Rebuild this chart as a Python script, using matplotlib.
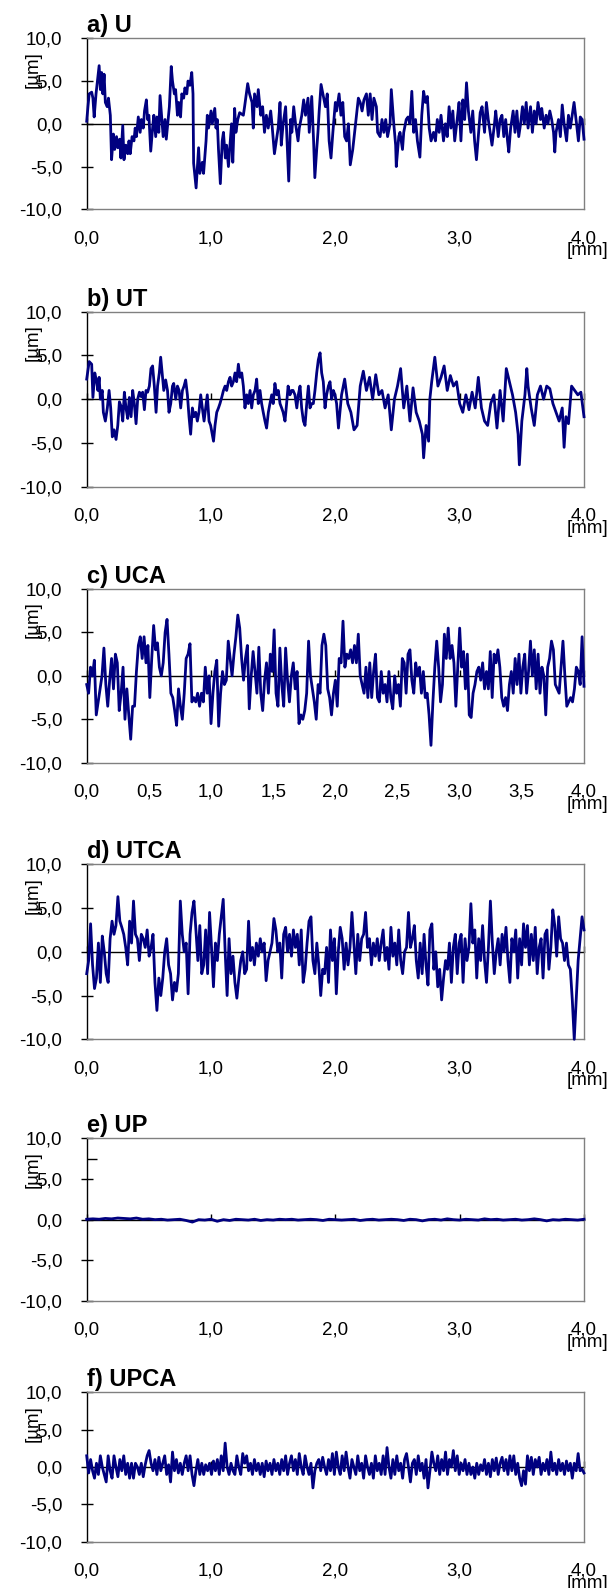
import numpy as np
import matplotlib
matplotlib.use("Agg")
import matplotlib.pyplot as plt
from matplotlib.ticker import FuncFormatter

plt.rcParams["font.family"] = ["Liberation Sans", "DejaVu Sans"]

# profile a) U as (x [mm], z [um])
u_x = [0.0, 0.01, 0.02, 0.04, 0.05, 0.06, 0.075, 0.09, 0.1, 0.11, 0.12, 0.13, 0.14, 0.15, 0.165, 0.175, 0.19,
       0.2, 0.215, 0.225, 0.24, 0.25, 0.265, 0.275, 0.29, 0.3, 0.315, 0.33, 0.34, 0.35, 0.365, 0.38, 0.39,
       0.4, 0.415, 0.43, 0.44, 0.455, 0.465, 0.48, 0.49, 0.5, 0.515, 0.53, 0.54, 0.555, 0.565, 0.58, 0.59,
       0.605, 0.615, 0.63, 0.64, 0.655, 0.665, 0.68, 0.69, 0.705, 0.715, 0.73, 0.74, 0.755, 0.765, 0.78,
       0.79, 0.805, 0.815, 0.83, 0.845, 0.855, 0.86, 0.88, 0.9, 0.91, 0.93, 0.94, 0.96, 0.97, 0.98, 1.0,
       1.01, 1.03, 1.04, 1.05, 1.06, 1.075, 1.09, 1.1, 1.115, 1.125, 1.14, 1.15, 1.165, 1.175, 1.19, 1.2,
       1.215, 1.23, 1.26, 1.27, 1.295, 1.31, 1.33, 1.34, 1.35, 1.37, 1.38, 1.4, 1.415, 1.43, 1.445, 1.46,
       1.48, 1.49, 1.51, 1.525, 1.54, 1.555, 1.565, 1.58, 1.6, 1.61, 1.625, 1.64, 1.65, 1.665, 1.68, 1.7,
       1.71, 1.73, 1.745, 1.76, 1.78, 1.79, 1.81, 1.825, 1.835, 1.85, 1.86, 1.87, 1.885, 1.9, 1.92, 1.935,
       1.95, 1.965, 1.98, 2.0, 2.01, 2.03, 2.045, 2.06, 2.075, 2.09, 2.105, 2.12, 2.14, 2.155, 2.17, 2.185,
       2.2, 2.215, 2.23, 2.25, 2.265, 2.28, 2.295, 2.31, 2.33, 2.34, 2.36, 2.375, 2.39, 2.405, 2.42, 2.44,
       2.45, 2.47, 2.485, 2.49, 2.51, 2.52, 2.54, 2.55, 2.57, 2.585, 2.6, 2.615, 2.63, 2.645, 2.66, 2.68,
       2.695, 2.71, 2.725, 2.74, 2.755, 2.77, 2.79, 2.805, 2.82, 2.835, 2.85, 2.87, 2.885, 2.9, 2.915, 2.93,
       2.945, 2.96, 2.98, 2.995, 3.01, 3.025, 3.04, 3.055, 3.07, 3.09, 3.105, 3.12, 3.135, 3.15, 3.165, 3.18,
       3.2, 3.215, 3.23, 3.245, 3.26, 3.28, 3.29, 3.31, 3.325, 3.34, 3.355, 3.37, 3.385, 3.395, 3.41, 3.43,
       3.445, 3.46, 3.475, 3.49, 3.505, 3.52, 3.535, 3.55, 3.57, 3.585, 3.6, 3.615, 3.63, 3.65, 3.66, 3.68,
       3.695, 3.71, 3.725, 3.74, 3.755, 3.765, 3.775, 3.795, 3.81, 3.825, 3.84, 3.86, 3.875, 3.89, 3.905,
       3.92, 3.94, 3.955, 3.97, 3.985, 4.0]
u_z = [0.3, 2.0, 3.5, 3.7, 3.0, 0.8, 3.5, 5.5, 6.8, 4.0, 6.0, 3.5, 5.8, 2.5, 2.0, 3.0, 1.0,
       -4.2, -1.2, -3.0, -1.5, -2.8, -1.8, -4.0, -0.2, -4.2, -2.5, -3.5, -2.0, -3.5, -1.5, -2.0, -0.5,
       -1.5, 0.8, -1.0, 0.5, -0.5, 1.5, 2.8, 0.5, 1.0, -3.2, -0.5, 1.0, -1.5, 0.8, -1.0, 3.3,
       0.5, -1.5, 0.5, -1.8, 0.5, 2.0, 6.7, 5.0, 3.5, 4.0, 1.0, 2.5, 0.8, 3.5, 3.0,
       4.2, 3.5, 5.0, 4.5, 6.0, 3.5, -4.6, -7.5, -2.8, -5.8, -4.5, -5.8, -2.0, 1.0, -0.5, 1.5,
       0.0, 1.8, -0.5, 0.5, -3.0, -7.0, -2.0, -1.0, -4.0, -2.5, -5.0, -3.0, 0.0, -4.5, 1.8, -1.0,
       0.5, 1.3, 1.0, 2.0, 4.7, 3.5, 2.5, -0.5, 3.5, 2.0, 4.0, 1.0, 2.0, -1.0, 1.0, -0.5,
       1.5, 0.0, -3.5, -2.0, -0.5, 2.5, -2.5, 0.0, 2.0, -1.5, -6.7, 0.5, -1.0, 2.0, 0.0, -2.0,
       -0.5, 1.0, 2.8, 1.0, 3.0, -1.0, 3.2, -2.0, -6.3, -3.0, -1.0, 1.5, 4.6, 3.5, 2.0, 3.5,
       -2.0, -4.0, -1.0, 2.5, 1.5, 3.5, 1.0, 2.5, -1.5, -2.0, 0.0, -4.8, -3.0, -1.0, 1.0, 3.0,
       2.5, 1.5, 2.8, 3.5, 1.0, 3.5, 0.5, 3.0, 2.0, -1.0, -1.5, 0.5, -1.0, 0.5, -1.5, 0.0,
       4.0, 0.0, -2.5, -5.0, -1.5, -1.0, -3.0, -1.0, 0.5, 0.8, 0.0, 3.8, -1.0, 0.5, -2.0, -3.9,
       1.0, 3.8, 2.5, 3.2, -0.5, -2.0, -1.0, -2.0, 0.5, -1.0, 1.0, -2.0, 0.0, -1.5, 2.0, -0.5,
       1.5, -2.0, 0.5, 2.5, -2.0, 2.8, 0.5, 4.8, 1.5, -1.0, 1.5, -2.0, -4.2, -1.5, 1.3, 2.0,
       -1.0, 2.5, 0.5, -1.0, -2.5, 0.0, 1.5, -1.5, 0.5, 1.0, -1.5, 0.5, -2.0, -3.3, -0.5, 1.5,
       -1.0, 1.5, -1.5, 0.0, 2.0, 0.0, 2.5, -0.5, 2.0, -1.0, 1.5, 0.0, 2.5, 0.5, 1.8, -0.5,
       1.0, 0.0, 1.5, 0.5, -1.0, -3.3, -1.0, 0.5, -1.5, 2.2, 0.0, -2.0, 1.0, -0.5, 1.0,
       2.5, 0.0, -2.0, 0.8, 0.5, -1.8]

# profile b) UT
ut_x = [0.0, 0.02, 0.04, 0.05, 0.065, 0.08, 0.09, 0.1, 0.11, 0.125,
        0.134, 0.15, 0.166, 0.18, 0.193, 0.206, 0.22, 0.236, 0.25, 0.263,
        0.276, 0.29, 0.303, 0.316, 0.33, 0.343, 0.357, 0.37, 0.383, 0.397,
        0.41, 0.424, 0.437, 0.45, 0.464, 0.477, 0.49, 0.504, 0.517, 0.53,
        0.544, 0.558, 0.57, 0.584, 0.595, 0.61, 0.62, 0.635, 0.65, 0.662,
        0.676, 0.69, 0.7, 0.716, 0.73, 0.743, 0.756, 0.77, 0.783, 0.796,
        0.81, 0.823, 0.836, 0.85, 0.863, 0.877, 0.89, 0.903, 0.917, 0.93,
        0.944, 0.957, 0.97, 0.984, 0.997, 1.01, 1.02, 1.032, 1.046, 1.06,
        1.072, 1.086, 1.1, 1.113, 1.126, 1.14, 1.153, 1.166, 1.18, 1.193,
        1.206, 1.22, 1.233, 1.247, 1.26, 1.273, 1.287, 1.3, 1.314, 1.327,
        1.34, 1.354, 1.367, 1.38, 1.394, 1.407, 1.42, 1.434, 1.447, 1.461,
        1.474, 1.488, 1.5, 1.514, 1.528, 1.541, 1.555, 1.568, 1.58, 1.595,
        1.608, 1.62, 1.635, 1.649, 1.66, 1.675, 1.69, 1.702, 1.716, 1.729,
        1.743, 1.756, 1.77, 1.783, 1.796, 1.81, 1.823, 1.836, 1.85, 1.863,
        1.877, 1.89, 1.903, 1.917, 1.93, 1.944, 1.957, 1.97, 1.984, 1.997, 2.01,
        2.025, 2.05, 2.075, 2.1, 2.125, 2.15, 2.175, 2.2, 2.225, 2.25, 2.275, 2.3, 2.325, 2.35, 2.375,
        2.4, 2.425, 2.45, 2.475, 2.5, 2.525, 2.55, 2.575, 2.6, 2.625, 2.65, 2.675, 2.7, 2.71, 2.73, 2.75,
        2.76, 2.775, 2.8, 2.825, 2.85, 2.875, 2.9, 2.925, 2.95, 2.975, 3.0, 3.025, 3.05, 3.075, 3.1, 3.125,
        3.15, 3.175, 3.2, 3.225, 3.25, 3.275, 3.3, 3.325, 3.35, 3.375, 3.4, 3.425, 3.45, 3.47, 3.48, 3.5,
        3.525, 3.54, 3.55, 3.575, 3.6, 3.625, 3.65, 3.675, 3.7, 3.725, 3.75, 3.775, 3.8, 3.825, 3.84, 3.855,
        3.875, 3.9, 3.925, 3.95, 3.975, 4.0]
ut_z = [2.3, 4.3, 4.0, 0.2, 3.0, 2.0, 1.0, 2.5, 0.0, 1.0,
        -1.5, -2.5, -1.0, 1.0, -1.0, -4.3, -3.5, -4.6, -3.0, -0.3,
        -0.8, -2.5, 0.8, -1.0, -2.2, 0.2, -2.0, 1.0, -0.5, -2.8,
        0.0, 0.8, 0.3, 0.8, -1.2, 1.0, 0.8, 1.5, 3.5, 3.8,
        1.5, -1.5, 1.5, 3.0, 4.8, 2.5, 1.0, 2.2, 1.0, -1.5,
        -0.5, 1.5, 1.8, 0.0, 1.5, 1.0, -1.0, 1.0, 1.5, 2.2,
        0.5, -2.0, -4.0, -1.0, -2.0, -1.5, -2.5, -1.5, 0.5, -1.0,
        -2.5, -1.0, 0.5, -2.5, -3.0, -4.0, -4.8, -3.0, -1.5, -1.0,
        -0.5, 0.2, 1.0, 1.5, 1.0, 2.0, 2.5, 1.5, 2.0, 3.0,
        2.0, 4.0, 2.5, 3.0, 1.5, -1.0, 0.5, -0.5, 1.0, -1.0,
        0.5, 1.0, 2.3, -0.5, 1.0, -0.5, -1.5, -2.5, -3.3, -1.5,
        -0.5, 0.5, -0.5, 1.8, 0.5, 1.0, -0.5, -1.0, -1.5, -2.5,
        -0.5, 1.5, 0.5, 1.0, 1.0, 0.5, -1.0, 0.5, 1.5, -1.0,
        -2.5, -3.0, -0.5, 1.5, -1.0, -0.5, -0.5, 1.0, 3.0, 4.5,
        5.3, 3.0, 2.0, -1.0, 0.5, 1.5, 2.0, 0.0, 1.0, 0.5, -0.5,
        -3.3, 0.5, 2.3, -0.5, -1.5, -3.5, -3.0, 1.5, 3.2, 1.0, 2.5, 0.0, 2.8, 0.5, 1.0,
        -1.0, 0.5, -3.5, 0.0, 1.5, 3.5, -1.0, 1.5, -2.5, 1.3, -1.5, -2.5, -4.0, -6.7, -3.0, -4.8,
        0.0, 2.0, 4.8, 1.5, 2.5, 3.8, 1.0, 2.7, 1.5, 2.0, -0.5, -1.5, 0.5, -1.2, 0.8, -1.0,
        2.5, -1.0, -2.5, -3.0, -0.5, 0.5, -3.3, 1.0, -2.5, 3.5, 2.0, 0.5, -1.5, -4.0, -7.5, -2.5,
        0.5, 3.5, 1.5, -1.0, -3.0, 0.5, 1.5, 0.0, 1.5, 1.2, -0.5, -1.5, -2.5, -1.0, -5.5, -2.0,
        -2.8, 1.5, 1.0, 0.5, 0.8, -2.0]

# profiles c) UCA, d) UTCA, e) UP, f) UPCA: equally spaced samples over 0-4 mm
uca_z = [-1.0, -2.0, 1.0, 0.0, 1.8, -4.5, -3.0, -1.5, 0.0, 3.2, -1.0, -3.5, -0.5, 2.0, -1.5, 2.5, 1.5, -4.0,
         -2.0, 1.0, -5.0, -1.5, -4.5, -7.3, -3.5, -3.5, 0.5, 3.5, 4.5, 2.0, 4.5, 1.5, 3.5, -2.5, 2.0, 5.8,
         3.0, 3.8, 1.0, 0.0, 1.5, 5.0, 6.5, 2.5, -2.0, -2.5, -4.0, -5.7, -1.5, -3.5, -5.0, -2.0, 2.0, 2.5,
         3.7, -3.0, -2.5, -3.0, -2.0, -3.5, -2.0, -3.0, 1.0, -2.0, 0.0, -5.5, -2.0, 0.5, 1.8, -5.8, -2.0,
         0.5, -1.0, -0.5, 4.0, 2.0, 0.0, 2.5, 4.5, 7.0, 5.5, 2.0, -0.5, 2.0, 3.5, -3.8, 0.0, 2.8, 0.5,
         -2.0, 3.3, -2.0, -4.0, -0.5, 1.5, -2.0, 2.5, 0.5, 5.3, -2.0, -3.5, 3.2, -1.0, -3.5, 3.2, -0.5,
         -3.0, 0.0, 1.5, -1.5, 0.5, -5.5, -4.5, -5.0, -4.0, -2.0, 4.0, 0.0, -1.5, -3.0, -5.0, -1.0, -2.0,
         3.5, 4.8, 3.5, -1.5, -2.5, -4.5, -2.0, -0.5, -3.5, 2.0, 1.5, 6.3, 1.0, 2.5, 2.0, 3.0, 1.5, 3.5,
         1.5, 4.8, 0.0, -1.0, -2.0, 1.0, -2.5, 1.5, -2.5, 0.5, 2.5, -2.5, -3.0, 0.5, -2.0, -1.0, -3.0,
         0.5, -2.5, -3.8, 0.0, -2.0, -1.0, -3.5, 2.0, 1.5, -2.0, 2.5, 3.0, -0.5, -2.0, 1.5, 0.0, 1.0,
         -2.0, 0.5, -2.5, -2.0, -4.5, -8.0, -3.0, 1.0, 4.0, 1.0, -3.0, -1.0, 4.8, 2.0, 5.5, 2.0, 3.5,
         1.5, -3.5, 1.0, 5.5, 1.0, 2.8, -1.5, 2.5, -4.5, -4.8, -2.0, -1.0, 0.5, 1.0, -0.5, 1.5, -1.5,
         0.5, -1.5, 2.8, -2.5, 2.5, 1.5, 3.0, 1.0, -2.5, -3.5, -2.5, -4.0, -1.0, 0.5, -2.0, 2.0, -1.0,
         2.5, -2.0, 1.0, 2.5, -2.0, 0.5, 4.0, 0.0, 3.0, -1.5, 2.5, -2.0, 1.0, 0.0, -4.5, 1.0, 2.0, 4.0,
         3.0, -1.0, -1.5, -2.0, 1.0, 4.0, 0.0, -3.5, -3.0, -2.5, -3.0, -1.5, 1.0, 0.5, -1.0, 4.5, -1.2]
utca_z = [-2.5, -1.0, 3.2, -1.5, -4.2, -3.0, 1.0, -3.5, 1.8, 0.0, -2.5, -3.5, 1.5, 3.5, 2.0, 3.0, 6.3, 3.5,
          2.8, 2.0, 0.5, -1.5, 3.5, 1.0, 5.8, 2.0, 1.5, -1.0, 2.0, 1.5, 0.5, 2.5, -0.5, 0.5, 2.0, -3.5,
          -6.7, -3.0, -5.0, -3.0, 0.0, 1.5, -1.5, -2.5, -5.5, -3.5, -4.5, -2.5, 5.8, 2.0, 0.0, 1.0, -4.8,
          2.0, 4.5, 5.8, 2.5, -1.0, 3.0, -2.5, -1.5, 2.5, -2.5, 4.5, 0.5, -4.0, 1.0, -1.0, 2.0, 4.0, 6.0,
          0.0, -5.0, 1.5, -2.5, -0.5, -3.5, -5.3, -3.0, -1.0, 0.0, -2.5, -2.0, 3.5, -1.0, 0.5, -1.5, 1.0,
          -0.5, 1.5, 0.0, 1.0, -3.3, -1.0, 0.0, 1.0, 3.8, 2.5, 0.0, 1.0, -3.0, 2.0, 2.8, 0.0, 2.0, -0.5,
          2.5, 0.5, 2.0, -1.5, 2.5, -3.5, -2.0, 1.0, 3.5, 4.0, -1.0, -2.5, 1.0, -1.5, -5.0, -2.0, -2.5,
          0.5, -3.5, 2.5, -1.0, 1.5, -4.8, 0.0, 2.8, 1.5, -2.0, 1.0, -1.5, 0.5, 4.5, 1.0, -2.5, 2.0, -1.0,
          1.5, 2.0, 4.5, 0.5, 1.5, -1.5, 1.0, -0.5, 1.5, -1.0, 1.0, 2.5, -1.0, 0.5, -2.0, 2.8, -0.5, 1.0,
          -1.5, 2.5, -1.0, -2.5, 0.0, 0.5, 4.5, 0.5, 1.5, 3.0, -1.0, -3.0, 1.0, -2.5, 2.0, -1.5, -3.8,
          2.5, 3.2, -2.0, 0.0, -4.0, -2.0, -5.5, -3.0, -1.0, -2.0, 1.0, -3.5, 0.5, 2.0, -2.5, 1.0, 2.0,
          -3.5, 1.5, -1.0, 0.5, 5.5, 1.0, 2.5, -3.0, 1.5, -1.0, 3.0, -1.0, -3.5, 0.5, 5.8, 1.0, -2.5,
          0.0, 1.5, -1.5, 2.0, 0.0, 2.8, -1.0, -3.5, 1.5, 0.0, 2.5, -3.0, 1.5, -1.5, 3.2, 0.5, 3.0, -1.5,
          2.0, -1.0, 2.8, -2.5, 0.5, 1.5, -3.0, 2.0, 2.5, -2.0, 0.5, 4.8, 3.0, -0.5, 4.0, 1.5, 1.0, -1.0,
          1.0, -1.5, -2.0, -5.5, -10.0, -5.5, -1.0, 1.5, 4.0, 2.5]
up_z = [0.05, 0.1, 0.05, 0.15, 0.1, 0.2, 0.15, 0.1, 0.2, 0.05, 0.1, 0.0, 0.05, -0.05, 0.0, 0.05, -0.1,
        -0.3, 0.0, -0.05, 0.05, -0.2, 0.0, -0.1, 0.05, 0.0, -0.05, 0.05, -0.1, 0.0, -0.05, 0.05, 0.0,
        0.05, -0.05, 0.0, 0.05, 0.0, -0.1, 0.05, 0.0, -0.05, 0.0, 0.05, -0.1, 0.0, 0.05, -0.05, 0.0,
        0.05, 0.0, -0.1, 0.05, 0.0, -0.15, 0.0, 0.05, -0.05, 0.1, 0.0, -0.05, 0.05, 0.0, -0.05, 0.1,
        0.0, 0.05, -0.05, 0.0, 0.05, -0.05, 0.0, 0.1, 0.0, -0.15, 0.0, -0.05, 0.05, 0.0, -0.05, 0.05]
upca_z = [1.5, -0.8, 1.0, -0.5, -1.5, 0.5, -1.0, 1.5, 0.0, -1.0, -2.0, 1.5, -0.5, -1.5, 1.5, 0.0, -1.3,
          1.0, -0.5, 1.5, -1.0, 0.5, -1.5, 0.5, -1.5, 0.5, 0.0, -1.0, 0.5, -1.3, 0.3, 1.5, 2.2, 0.5,
          -0.5, 1.0, -1.0, 1.3, -0.5, 0.5, 1.5, -1.0, 0.3, -2.0, 2.0, -0.5, 1.0, -0.8, 0.5, -1.0, 0.5,
          1.5, -0.5, 1.5, -1.0, -2.5, -0.5, 1.0, -1.0, 0.5, -1.0, 0.3, -0.5, 0.5, -1.0, 0.8, -0.5, 1.0,
          -1.0, 1.5, -0.5, 3.2, 0.0, -1.0, 0.5, -0.5, -1.0, 1.5, 0.0, -1.0, 1.8, 0.5, 1.5, -0.5, 0.5,
          -1.0, 1.0, -0.5, 0.5, -1.0, 0.5, -1.3, 0.8, -0.5, 0.5, -1.0, 1.0, -0.5, 0.5, -1.0, 1.0, -0.5,
          1.5, -1.0, 0.5, 1.5, -0.5, 1.0, -1.0, 1.8, 0.0, -1.0, 1.5, 0.0, -1.0, 0.5, -2.8, -0.5, 0.5,
          1.0, -0.5, 1.3, 0.0, -1.0, 1.0, -0.5, 1.8, -1.0, 2.0, 0.0, -1.0, 1.5, -0.5, 2.0, 0.0, -1.5,
          1.0, 0.0, -1.0, 1.5, -0.5, 0.5, -1.5, 1.5, 0.0, -1.0, 0.5, -1.5, 1.5, -0.5, 0.5, -1.0, 1.5,
          -1.0, 2.6, 0.0, -1.5, 1.0, -1.0, 1.5, -0.5, 0.5, -1.5, 1.0, 1.8, 0.0, -2.0, 0.5, 1.0, -1.0,
          1.5, -0.5, 0.5, -1.5, 1.0, -2.8, -0.5, 2.0, 0.5, -0.5, 1.5, -1.0, 1.0, -0.5, 2.0, -1.0, 1.0,
          0.0, 2.2, -0.5, 1.5, -1.0, 0.5, -0.5, 1.0, -1.0, 0.5, -1.0, 0.0, -1.5, 0.5, -1.0, 0.3, -0.5,
          1.0, -1.0, 0.5, -1.3, 1.0, -0.5, 1.2, -1.0, 0.5, 1.3, -0.5, 1.0, -1.0, 1.5, -0.5, 1.5, -1.0,
          0.5, -1.5, -2.5, -0.5, -2.3, 1.5, -0.5, 1.3, -1.0, 1.0, 0.0, 1.3, -1.0, 0.5, -0.5, 1.0, -1.0,
          2.0, -0.5, 0.5, -1.0, 1.0, -0.5, 0.5, -1.0, 0.8, -0.5, 0.5, -1.5, 0.5, -0.5, 1.8, -0.5, -0.3,
          -0.8]

titles = ["a) U", "b) UT", "c) UCA", "d) UTCA", "e) UP", "f) UPCA"]
profiles = [
    (u_x, u_z),
    (ut_x, ut_z),
    (np.linspace(0, 4, len(uca_z)), uca_z),
    (np.linspace(0, 4, len(utca_z)), utca_z),
    (np.linspace(0, 4, len(up_z)), up_z),
    (np.linspace(0, 4, len(upca_z)), upca_z),
]
x_steps = [1.0, 1.0, 0.5, 1.0, 1.0, 1.0]
y_ticks = [-10, -5, 0, 5, 10]

# plot-area boxes in pixels (top, bottom) of a 613 x 1588 figure
W, H = 613, 1588
LEFT, RIGHT = 86.7, 584.0
boxes = [(38.3, 209.3), (311.7, 486.7), (589.0, 762.7), (864.3, 1039.3), (1138.3, 1301.0), (1392.3, 1541.7)]

comma = FuncFormatter(lambda v, pos: f"{v:.1f}".replace(".", ","))
fs = 13.5

fig = plt.figure(figsize=(W / 100, H / 100), dpi=100)
for i, ((px, pz), title, step, (top, bot)) in enumerate(zip(profiles, titles, x_steps, boxes)):
    h = bot - top
    ax = fig.add_axes([LEFT / W, 1 - bot / H, (RIGHT - LEFT) / W, h / H])
    ax.plot(px, pz, color="#000080", lw=2.0, zorder=3, clip_on=False)
    ax.set_xlim(0, 4)
    ax.set_ylim(-10, 10)
    xt = np.arange(0, 4 + step / 2, step)
    ax.set_xticks(xt)
    ax.set_yticks(y_ticks)
    ax.xaxis.set_major_formatter(comma)
    ax.yaxis.set_major_formatter(comma)
    ax.tick_params(axis="x", length=0, pad=15, labelsize=fs)
    ax.tick_params(axis="y", direction="inout", length=9, width=1, pad=13, labelsize=fs)
    for side in ("top", "right", "bottom"):
        ax.spines[side].set_color("#808080")
    ax.spines["left"].set_color("black")
    for sp in ax.spines.values():
        sp.set_linewidth(1)

    # horizontal axis crossing at zero with small tick marks
    zero = ax.secondary_xaxis(0.5)
    zero.set_xticks(xt)
    zero.tick_params(direction="out", length=4.3, width=1, labeltop=False, labelbottom=False)
    for sp in zero.spines.values():
        sp.set_color("black")
        sp.set_linewidth(1)

    if i == 4:
        ax.set_yticks([7.5], minor=True)
        ax.tick_params(axis="y", which="minor", direction="in", length=7, width=1)

    ax.text(0, 1 + 6 / h, title, transform=ax.transAxes, fontsize=17, fontweight="bold",
            ha="left", va="baseline")
    ax.text(-0.108, 1 - 31 / h, "[µm]", transform=ax.transAxes, rotation=90, fontsize=fs,
            ha="center", va="center")
    ax.text(1.008, -41.5 / h, "[mm]", transform=ax.transAxes, fontsize=fs, ha="center", va="center")

fig.savefig("out.png", dpi=100)
